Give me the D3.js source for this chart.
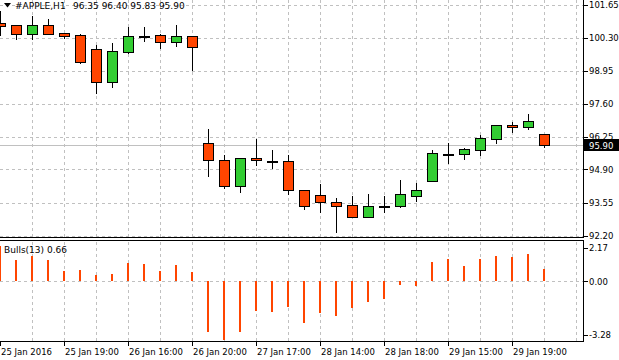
<!DOCTYPE html>
<html>
<head>
<meta charset="utf-8">
<script src="https://cdn.jsdelivr.net/npm/d3@7/dist/d3.min.js"></script>
<style>
body { margin: 0; background: #fff; }
svg { display: block; font-family: "DejaVu Sans", sans-serif; font-size: 8.5px; }
.title { font-size: 9px; }
</style>
</head>
<body>
<div id="chart"></div>
<script>
// #APPLE H1 candles, left to right (bar index 0..34)
const opens  = [100.90, 100.80, 100.46, 100.83, 100.48, 100.39, 99.81, 98.47, 99.71, 100.38, 100.41, 100.10, 100.35,
                96.00, 95.27, 94.24, 95.39, 95.25, 95.23, 94.08, 93.84, 93.59, 93.43, 92.96, 93.40, 93.41, 93.82,
                94.43, 95.55, 95.55, 95.70, 96.15, 96.71, 96.62, 96.35]
const highs  = [101.42, 100.81, 101.21, 101.08, 100.52, 100.48, 100.03, 100.11, 100.76, 100.76, 100.49, 100.87, 100.36,
                96.58, 95.54, 95.40, 96.17, 95.72, 95.54, 94.12, 94.34, 93.79, 93.86, 93.92, 93.85, 94.50, 94.39,
                95.73, 96.02, 95.82, 96.34, 96.75, 96.88, 97.20, 96.40]
const lows   = [100.39, 100.22, 100.22, 100.45, 100.30, 99.26, 98.03, 98.28, 99.67, 100.16, 99.89, 99.97, 98.96,
                94.64, 94.16, 93.98, 95.10, 94.96, 93.88, 93.29, 93.16, 92.35, 92.94, 92.96, 93.16, 93.37, 93.61,
                94.43, 95.17, 95.32, 95.48, 95.99, 96.44, 96.54, 95.83]
const closes = [100.79, 100.46, 100.83, 100.46, 100.38, 99.30, 98.47, 99.74, 100.35, 100.38, 100.10, 100.35, 99.93,
                95.27, 94.24, 95.39, 95.27, 95.25, 94.08, 93.39, 93.59, 93.39, 92.96, 93.39, 93.40, 93.88, 94.08,
                95.57, 95.55, 95.72, 96.17, 96.71, 96.62, 96.90, 95.90]

// Bulls Power (13)
const bulls = [1.91, 1.13, 1.35, 1.13, 0.55, 0.60, 0.33, 0.39, 0.99, 0.90, 0.55, 0.88, 0.46,
               -2.79, -3.20, -2.79, -1.63, -1.70, -1.41, -2.28, -1.74, -1.92, -1.47, -1.14, -0.99, -0.21, -0.27,
               1.04, 1.19, 0.82, 1.19, 1.35, 1.31, 1.46, 0.66]

const priceTicks = [92.20, 93.55, 94.90, 96.25, 97.60, 98.95, 100.30, 101.65]
const bullsTicks = [-3.28, 0.00, 2.17]
const timeTickBars = [0, 4, 8, 12, 16, 20, 24, 28, 32]
const timeTickLabels = ['25 Jan 2016', '25 Jan 19:00', '26 Jan 16:00', '26 Jan 20:00', '27 Jan 17:00',
                        '28 Jan 14:00', '28 Jan 18:00', '29 Jan 15:00', '29 Jan 19:00']
const lastPrice = 95.90

const up = '#32cd32', down = '#ff4500', grid = '#c0c0c0'
const W = 619, H = 360, axisX = 583.5
const priceBottom = 237.5, indTop = 240.5, indBottom = 341.5

const svg = d3.select('#chart').append('svg')
    .attr('width', W).attr('height', H)
    .attr('shape-rendering', 'crispEdges')

const x = d3.scaleLinear().domain([0, 34]).range([0.5, 544.5])
const y = d3.scaleLinear().domain([92.20, 101.65]).range([235.5, 4.5])
const yb = d3.scaleLinear().domain([-3.28, 2.17]).range([341, 241])
const snap = v => Math.round(v) + 0.5

// vertical grid, every other bar
const gridBars = d3.range(2, 37, 2)
svg.append('g').selectAll('line')
    .data(gridBars).enter().append('line')
        .attr('x1', d => x(d)).attr('x2', d => x(d))
        .attr('y1', 0).attr('y2', priceBottom - 1)
        .attr('stroke', grid).attr('stroke-dasharray', '3,3')
svg.append('g').selectAll('line')
    .data(gridBars).enter().append('line')
        .attr('x1', d => x(d)).attr('x2', d => x(d))
        .attr('y1', indTop + 1).attr('y2', indBottom - 1)
        .attr('stroke', grid).attr('stroke-dasharray', '3,3')

// horizontal price grid
svg.append('g').selectAll('line')
    .data(priceTicks).enter().append('line')
        .attr('x1', 0).attr('x2', axisX)
        .attr('y1', d => snap(y(d))).attr('y2', d => snap(y(d)))
        .attr('stroke', grid).attr('stroke-dasharray', '3,3')

// zero line in indicator
svg.append('line')
    .attr('x1', 0).attr('x2', axisX)
    .attr('y1', snap(yb(0))).attr('y2', snap(yb(0)))
    .attr('stroke', grid).attr('stroke-dasharray', '3,3')

// last price line
svg.append('line')
    .attr('x1', 0).attr('x2', axisX)
    .attr('y1', snap(y(lastPrice))).attr('y2', snap(y(lastPrice)))
    .attr('stroke', grid)

// candles
const candles = svg.append('g').selectAll('g')
    .data(opens.map((o, i) => ({i, o, h: highs[i], l: lows[i], c: closes[i]})))
    .enter().append('g')

candles.append('line')
    .attr('x1', d => x(d.i)).attr('x2', d => x(d.i))
    .attr('y1', d => snap(y(d.h))).attr('y2', d => snap(y(d.l)))
    .attr('stroke', '#000')

candles.append('rect')
    .attr('x', d => x(d.i) - 5)
    .attr('width', 10)
    .attr('y', d => snap(y(Math.max(d.o, d.c))))
    .attr('height', d => Math.max(1, snap(y(Math.min(d.o, d.c))) - snap(y(Math.max(d.o, d.c)))))
    .attr('fill', d => d.c > d.o ? up : (d.c < d.o ? down : '#000'))
    .attr('stroke', '#000')

// bulls power histogram
svg.append('g').selectAll('rect')
    .data(bulls).enter().append('rect')
        .attr('x', (d, i) => x(i) - 1.5)
        .attr('width', 2)
        .attr('y', d => Math.round(yb(Math.max(0, d))))
        .attr('height', d => Math.max(1, Math.abs(Math.round(yb(d)) - Math.round(yb(0)))))
        .attr('fill', down)

// frames
const frame = svg.append('g').attr('stroke', '#000').attr('fill', 'none')
frame.append('line').attr('x1', 0).attr('x2', axisX).attr('y1', priceBottom).attr('y2', priceBottom)
frame.append('line').attr('x1', axisX).attr('x2', axisX).attr('y1', 0).attr('y2', priceBottom)
frame.append('path').attr('d', `M0,${indTop}H${axisX}V${indBottom}H0`)

// right price axis
const pAxis = svg.append('g')
pAxis.selectAll('line').data(priceTicks).enter().append('line')
    .attr('x1', axisX).attr('x2', axisX + 4)
    .attr('y1', d => snap(y(d))).attr('y2', d => snap(y(d)))
    .attr('stroke', '#000')
pAxis.selectAll('text').data(priceTicks).enter().append('text')
    .attr('x', 589).attr('y', d => y(d) + 3.5)
    .text(d => d.toFixed(2))

// last price marker
svg.append('rect')
    .attr('x', 584).attr('y', snap(y(lastPrice)) - 6.5)
    .attr('width', 35).attr('height', 12)
    .attr('fill', '#000')
svg.append('text')
    .attr('x', 589).attr('y', y(lastPrice) + 3.5)
    .attr('fill', '#fff')
    .text(lastPrice.toFixed(2))

// indicator axis labels (max/min pinned inside the window edges)
const bLabelY = d => d === 2.17 ? yb(d) + 10 : (d === -3.28 ? yb(d) - 3 : yb(d) + 4)
const bTickY = d => d === 2.17 ? snap(yb(d)) + 7 : (d === -3.28 ? snap(yb(d)) - 6 : snap(yb(d)))
svg.append('g').selectAll('text')
    .data(bullsTicks).enter().append('text')
        .attr('x', 589).attr('y', bLabelY)
        .text(d => d.toFixed(2))
svg.append('g').selectAll('line')
    .data(bullsTicks).enter().append('line')
        .attr('x1', axisX).attr('x2', axisX + 4)
        .attr('y1', bTickY).attr('y2', bTickY)
        .attr('stroke', '#000')

// time axis
const tAxis = svg.append('g')
tAxis.selectAll('line').data(timeTickBars).enter().append('line')
    .attr('x1', d => x(d)).attr('x2', d => x(d))
    .attr('y1', indBottom).attr('y2', indBottom + 4)
    .attr('stroke', '#000')
tAxis.selectAll('text').data(timeTickBars).enter().append('text')
    .attr('x', d => x(d) + 0.5).attr('y', 355)
    .text((d, i) => timeTickLabels[i])

// header
svg.append('path').attr('d', 'M4,3H11L7.5,7.5Z').attr('fill', '#000').attr('shape-rendering', 'auto')
svg.append('text').attr('class', 'title').attr('x', 15).attr('y', 9).text('#APPLE,H1')
svg.append('text').attr('class', 'title').attr('x', 73).attr('y', 9).text('96.35 96.40 95.83 95.90')
svg.append('text').attr('class', 'title').attr('x', 4).attr('y', 253).text('Bulls(13) 0.66')
</script>
</body>
</html>
